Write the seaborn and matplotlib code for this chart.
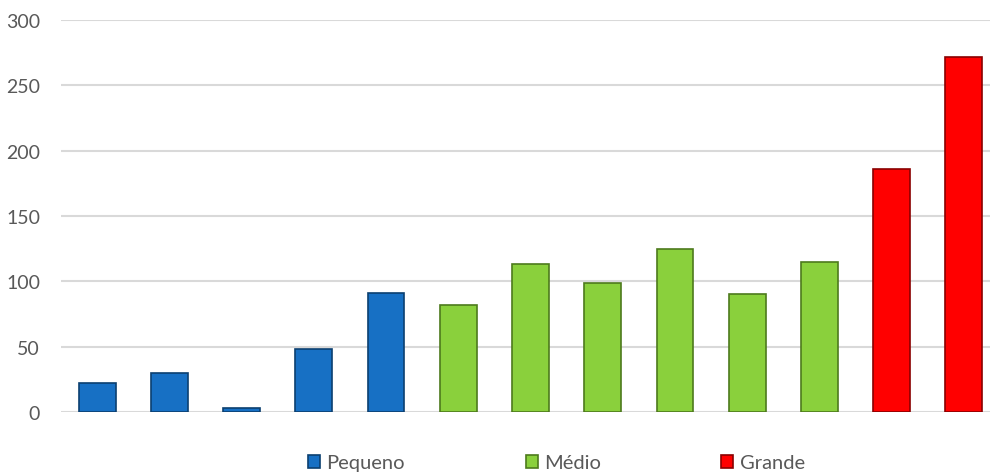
import pandas as pd
import matplotlib.pyplot as plt
import matplotlib.colors as mc
import seaborn as sns

# values
positions = list(range(1, 14))
values = [22, 30, 3, 48, 91, 82, 113, 99, 125, 90, 115, 186, 272]
sizes = ['Pequeno'] * 5 + ['Médio'] * 6 + ['Grande'] * 2

df = pd.DataFrame({'pos': positions, 'valor': values, 'porte': sizes})

palette = {'Pequeno': '#1770c4', 'Médio': '#8ad03c', 'Grande': '#ff0000'}
edges = {'Pequeno': '#0b3f70', 'Médio': '#4d7a1c', 'Grande': '#8a0000'}

sns.set_style('white')
plt.rcParams['font.family'] = ['Lato', 'DejaVu Sans']

fig = plt.figure(figsize=(9.9, 4.77), dpi=100)
ax = fig.add_axes([0.0616, 0.134, 0.9485, 0.822])

sns.barplot(data=df, x='pos', y='valor', hue='porte', palette=palette,
            dodge=False, width=0.51, ax=ax, saturation=1)

# darker outline per group
for bar in ax.patches:
    hexc = mc.to_hex(bar.get_facecolor())
    for k, c in palette.items():
        if hexc == c:
            bar.set_edgecolor(edges[k])
            bar.set_linewidth(1.2)

ax.set_xlim(-0.5, 12.5)
ax.set_ylim(0, 300)
ax.set_yticks(range(0, 301, 50))
ax.yaxis.grid(True, color='#d9d9d9', linewidth=1.5)
ax.set_axisbelow(True)
ax.set_xticks([])
ax.set_xlabel('')
ax.set_ylabel('')
sns.despine(ax=ax, left=True, bottom=True, right=True, top=True)
ax.tick_params(axis='y', length=0, labelsize=14, labelcolor='#595959', pad=15)

handles, labels = ax.get_legend_handles_labels()
ax.get_legend().remove()
leg = fig.legend(handles, labels, loc='lower center', bbox_to_anchor=(0.562, -0.028),
                 ncol=3, frameon=False, fontsize=14.5, handlelength=0.6,
                 handleheight=0.6, handletextpad=0.3, columnspacing=6.0)
for t in leg.get_texts():
    t.set_color('#595959')

fig.savefig('out.png', dpi=100)
